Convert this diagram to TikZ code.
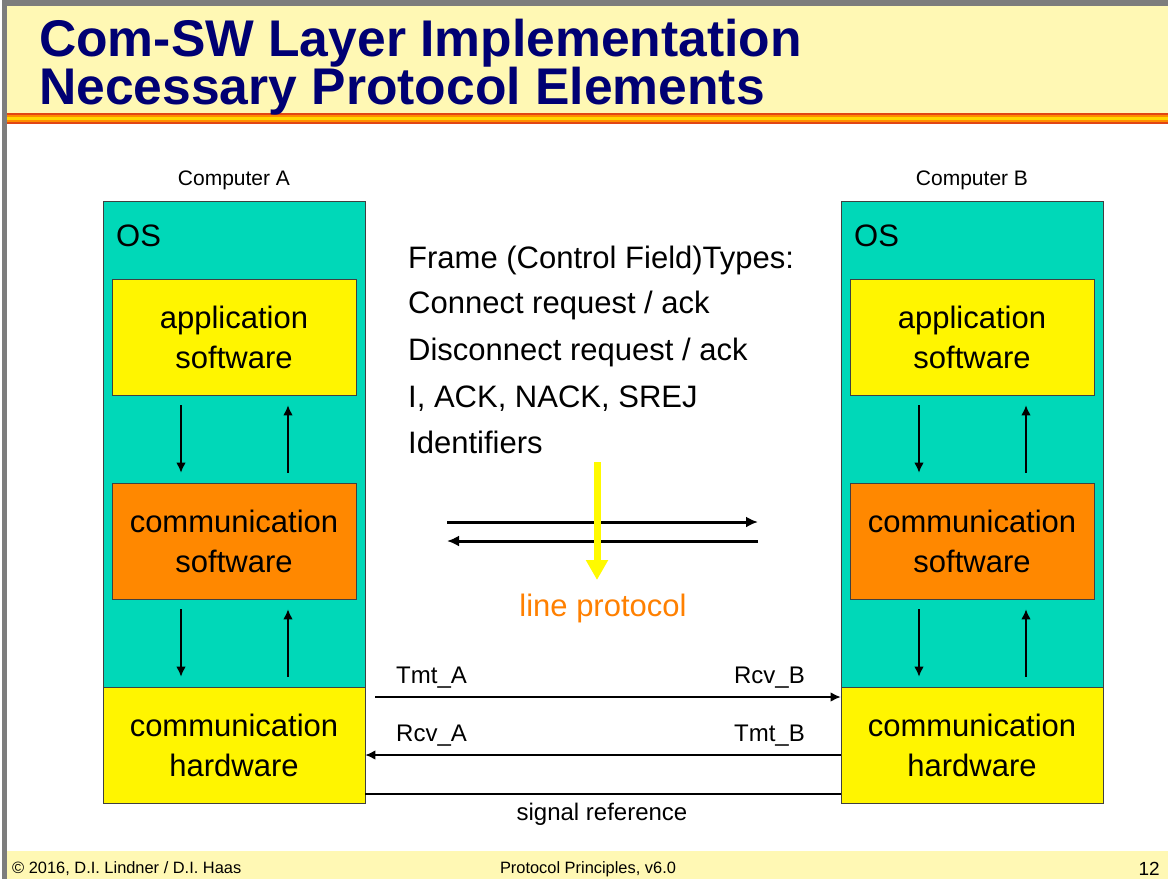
\documentclass[tikz,border=0pt]{standalone}
\usepackage{fontspec}
\setmainfont{Liberation Sans}
\usetikzlibrary{arrows.meta,calc}
\definecolor{tealos}{RGB}{0,216,184}
\definecolor{boxyellow}{RGB}{255,245,0}
\definecolor{boxorange}{RGB}{255,136,0}
\definecolor{bandyellow}{RGB}{255,248,180}
\definecolor{titleblue}{RGB}{0,0,115}
\definecolor{stripered}{RGB}{225,70,20}
\definecolor{stripeorange}{RGB}{255,140,0}
\definecolor{stripeyellow}{RGB}{255,215,0}
\definecolor{framegray}{RGB}{125,125,125}
\definecolor{protoorange}{RGB}{255,128,0}
\definecolor{arrowyellow}{RGB}{255,250,0}
\newcommand\myfs[2]{\fontsize{#1}{#2}\selectfont}
\begin{document}
\begin{tikzpicture}[x=1pt,y=-1pt,
  box/.style={draw=black!75, line width=0.8pt, inner sep=0pt, align=center, font=\myfs{31}{40}},
  big/.style={inner sep=0pt, font=\myfs{31}{40}},
  lbl/.style={inner sep=0pt, font=\myfs{24}{28}},
  small/.style={inner sep=0pt, font=\myfs{21}{24}},
  foot/.style={inner sep=0pt, font=\myfs{16.4}{20}},
  arr/.style={-{Latex[length=10pt,width=9.5pt]}, line width=1.2pt},
  thickarr/.style={-{Latex[length=12pt,width=11pt]}, line width=3pt},
  yarr/.style={-{Triangle[length=20pt,width=21pt]}, line width=7pt, draw=arrowyellow}
]
\useasboundingbox (0,0) rectangle (1168,879);
\fill[white] (0,0) rectangle (1168,879);
% frame and title band
\fill[bandyellow] (7,6) rectangle (1168,113);
\fill[stripered] (7,113) rectangle (1168,124);
\fill[stripeorange] (7,115) rectangle (1168,122);
\fill[stripeyellow] (7,117) rectangle (1168,120);
\fill[framegray] (2,0) rectangle (1168,6);
\fill[framegray] (2,0) rectangle (7,879);
\fill[bandyellow] (7,851) rectangle (1168,879);
% title
\node[anchor=base west, inner sep=0pt, font=\myfs{51.6}{56}\bfseries, text=titleblue] (t1) at (39,56) {Com-SW Layer Implementation};
\node[anchor=base west, inner sep=0pt, font=\myfs{51.6}{56}\bfseries, text=titleblue] (t2) at (39,104) {Necessary Protocol Elements};
% footer
\node[anchor=base west, foot] (f1) at (12,873) {© 2016, D.I. Lindner / D.I. Haas};
\node[anchor=base, foot] (f2) at (588,873) {Protocol Principles, v6.0};
\node[anchor=base east, inner sep=0pt, font=\myfs{19}{22}] (f3) at (1160,875) {12};
% computer A
\node[anchor=base, small] (cA) at (234,185) {Computer A};
\node[box, fill=tealos, minimum width=262pt, minimum height=486pt] (osA) at (234,444) {};
\node[anchor=base west, big] (osAl) at (116,246) {OS};
\node[box, fill=boxyellow, minimum width=244pt, minimum height=116pt] (appA) at (234,337) {application\\software};
\node[box, fill=boxorange, minimum width=244pt, minimum height=116pt] (comA) at (234,541) {communication\\software};
\node[box, fill=boxyellow, minimum width=262pt, minimum height=116pt] (hwA) at (234,745) {communication\\hardware};
% computer B
\node[anchor=base, small] (cB) at (972,185) {Computer B};
\node[box, fill=tealos, minimum width=262pt, minimum height=486pt] (osB) at (972,444) {};
\node[anchor=base west, big] (osBl) at (854,246) {OS};
\node[box, fill=boxyellow, minimum width=244pt, minimum height=116pt] (appB) at (972,337) {application\\software};
\node[box, fill=boxorange, minimum width=244pt, minimum height=116pt] (comB) at (972,541) {communication\\software};
\node[box, fill=boxyellow, minimum width=262pt, minimum height=116pt] (hwB) at (972,745) {communication\\hardware};
% vertical arrows
\foreach \s in {A,B}{
  \draw[arr] ([shift={(-53,10)}]app\s.south) -- ([shift={(-53,-10)}]com\s.north);
  \draw[arr] ([shift={(54,-10)}]com\s.north) -- ([shift={(54,10)}]app\s.south);
  \draw[arr] ([shift={(-53,10)}]com\s.south) -- ([shift={(-53,-10)}]hw\s.north);
  \draw[arr] ([shift={(54,-10)}]hw\s.north) -- ([shift={(54,10)}]com\s.south);
}
% links
\draw[arr] ([shift={(10,-48)}]hwA.east) -- ([shift={(0,-48)}]hwB.west);
\draw[arr] ([shift={(0,10)}]hwB.west) -- ([shift={(0,10)}]hwA.east);
\draw[line width=1.2pt] ([shift={(0,49)}]hwA.east) -- ([shift={(0,49)}]hwB.west);
\node[anchor=base west, lbl] (tmtA) at (396,683) {Tmt\_A};
\node[anchor=base east, lbl] (rcvB) at (805,683) {Rcv\_B};
\node[anchor=base west, lbl] (rcvA) at (396,741) {Rcv\_A};
\node[anchor=base east, lbl] (tmtB) at (805,741) {Tmt\_B};
\node[anchor=base, lbl] (sref) at (602,820) {signal reference};
% middle text
\node[anchor=base west, big] (ft1) at (408,268) {Frame (Control Field)Types:};
\node[anchor=base west, big] (ft2) at (408,313) {Connect request / ack};
\node[anchor=base west, big] (ft3) at (408,360) {Disconnect request / ack};
\node[anchor=base west, big] (ft4) at (408,407) {I, ACK, NACK, SREJ};
\node[anchor=base west, big] (ft5) at (408,453) {Identifiers};
% line protocol arrows
\coordinate (m1s) at (447,522);
\coordinate (m1e) at (758,522);
\coordinate (m2s) at (758,541);
\coordinate (m2e) at (447,541);
\draw[thickarr] (m1s) -- (m1e);
\draw[thickarr] (m2s) -- (m2e);
\coordinate (ys) at (597,462);
\coordinate (ye) at (597,580);
\draw[yarr] (ys) -- (ye);
\node[anchor=base, big, text=protoorange] (lp) at (603,616) {line protocol};
\end{tikzpicture}
\end{document}
